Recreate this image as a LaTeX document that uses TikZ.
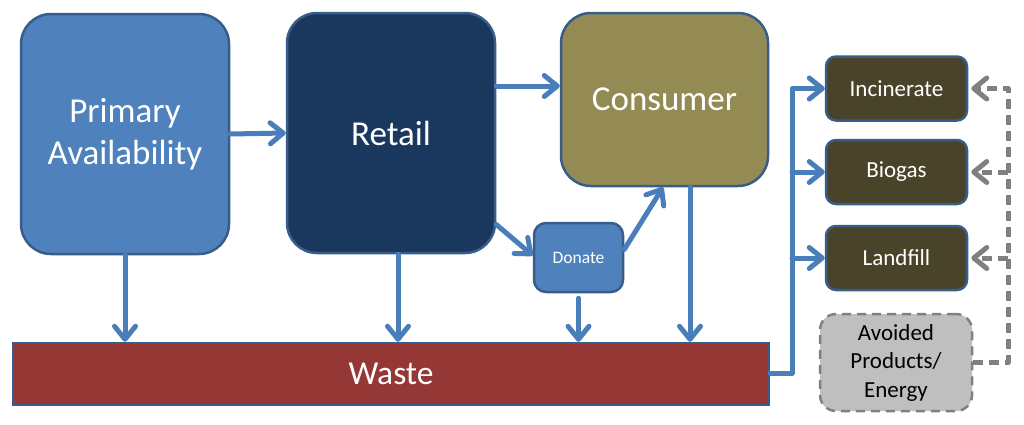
\documentclass[tikz,border=0pt]{standalone}
\usepackage{fontspec}
\setmainfont{Carlito}
\usetikzlibrary{arrows.meta,calc}
\definecolor{pblue}{HTML}{4F81BD}
\definecolor{pborder}{HTML}{385D8A}
\definecolor{navy}{HTML}{1A375E}
\definecolor{olive}{HTML}{948A54}
\definecolor{wred}{HTML}{953735}
\definecolor{dbrown}{HTML}{494429}
\definecolor{arrblue}{HTML}{4A7EBB}
\definecolor{lgray}{HTML}{BFBFBF}
\definecolor{dgray}{HTML}{808080}
\tikzset{
  box/.style={draw=pborder, line width=2.5pt, text=white, align=center, inner sep=0pt},
  bigbox/.style={box, rounded corners=30pt, minimum width=208pt, minimum height=240pt, font=\fontsize{35}{42}\selectfont},
  sidebox/.style={box, fill=dbrown, rounded corners=10pt, minimum width=141pt, minimum height=64pt, font=\fontsize{23}{27}\selectfont},
  arr/.style={draw=arrblue, line width=5pt, line cap=round, line join=round, -{Straight Barb[length=13pt,width=21pt,line cap=round,line join=round]}},
  garr/.style={draw=dgray, line width=5pt, dash pattern=on 10pt off 6pt, line join=round, -{Straight Barb[length=13pt,width=21pt,line cap=round,line join=round]}, shorten >=3pt}
}
\begin{document}
\begin{tikzpicture}[x=1pt,y=-1pt]
\useasboundingbox (0,0) rectangle (1024,424);
\node[bigbox, fill=pblue] (prim) at (125,134) {Primary\\Availability};
\node[bigbox, fill=navy] (retail) at (391,133) {Retail};
\node[bigbox, fill=olive, minimum height=173pt, minimum width=207pt] (cons) at (664.5,99.5) {Consumer};
\node[box, fill=pblue, rounded corners=12pt, minimum width=89pt, minimum height=69pt, font=\fontsize{17.5}{20}\selectfont] (donate) at (578.5,257.5) {Donate};
\node[box, fill=wred, minimum width=756pt, minimum height=62pt, font=\fontsize{33.5}{40}\selectfont] (waste) at (391,374) {Waste};
\node[sidebox] (inc) at (896.5,88.5) {Incinerate};
\node[sidebox] (bio) at (896.5,172) {Biogas};
\node[sidebox] (land) at (896.5,258) {Landfill};
\node[draw=dgray, fill=lgray, line width=2.5pt, dash pattern=on 9pt off 6pt, rounded corners=16pt, minimum width=152pt, minimum height=97pt, align=center, inner sep=0pt, text=black, font=\fontsize{23}{28.5}\selectfont] (avoid) at (896,362.5) {Avoided\\Products/\\Energy};
\coordinate (jw) at (792,0);
\coordinate (jg) at (1008,0);
% main flow
\draw[arr] (prim.east) -- (retail.west);
\draw[arr] ([yshift=13.5pt]cons.west -| retail.east) -- ([yshift=13.5pt]cons.west);
\draw[arr] (retail.-41) -- ([yshift=2pt]donate.west);
\draw[arr] (donate.10) -- ([xshift=-1.5pt]cons.south);
% to waste
\draw[arr] (prim.south) -- (prim.south |- waste.north);
\draw[arr] ([xshift=7pt]retail.south) -- ([xshift=7pt]retail.south |- waste.north);
\draw[arr] ([yshift=-5pt]donate.south) -- (donate.south |- waste.north);
\draw[arr] ([xshift=25.5pt]cons.south) -- ([xshift=25.5pt]cons.south |- waste.north);
% waste to treatments
\draw[arr] ([yshift=1pt]waste.east) -| (jw |- inc.west) -- (inc.west);
\draw[arr] (jw |- bio.west) -- (bio.west);
\draw[arr] (jw |- land.west) -- (land.west);
% avoided products
\draw[garr] (avoid.east) -| (jg |- inc.east) -- (inc.east);
\draw[garr] (jg |- bio.east) -- (bio.east);
\draw[garr] (jg |- land.east) -- (land.east);
\end{tikzpicture}
\end{document}
